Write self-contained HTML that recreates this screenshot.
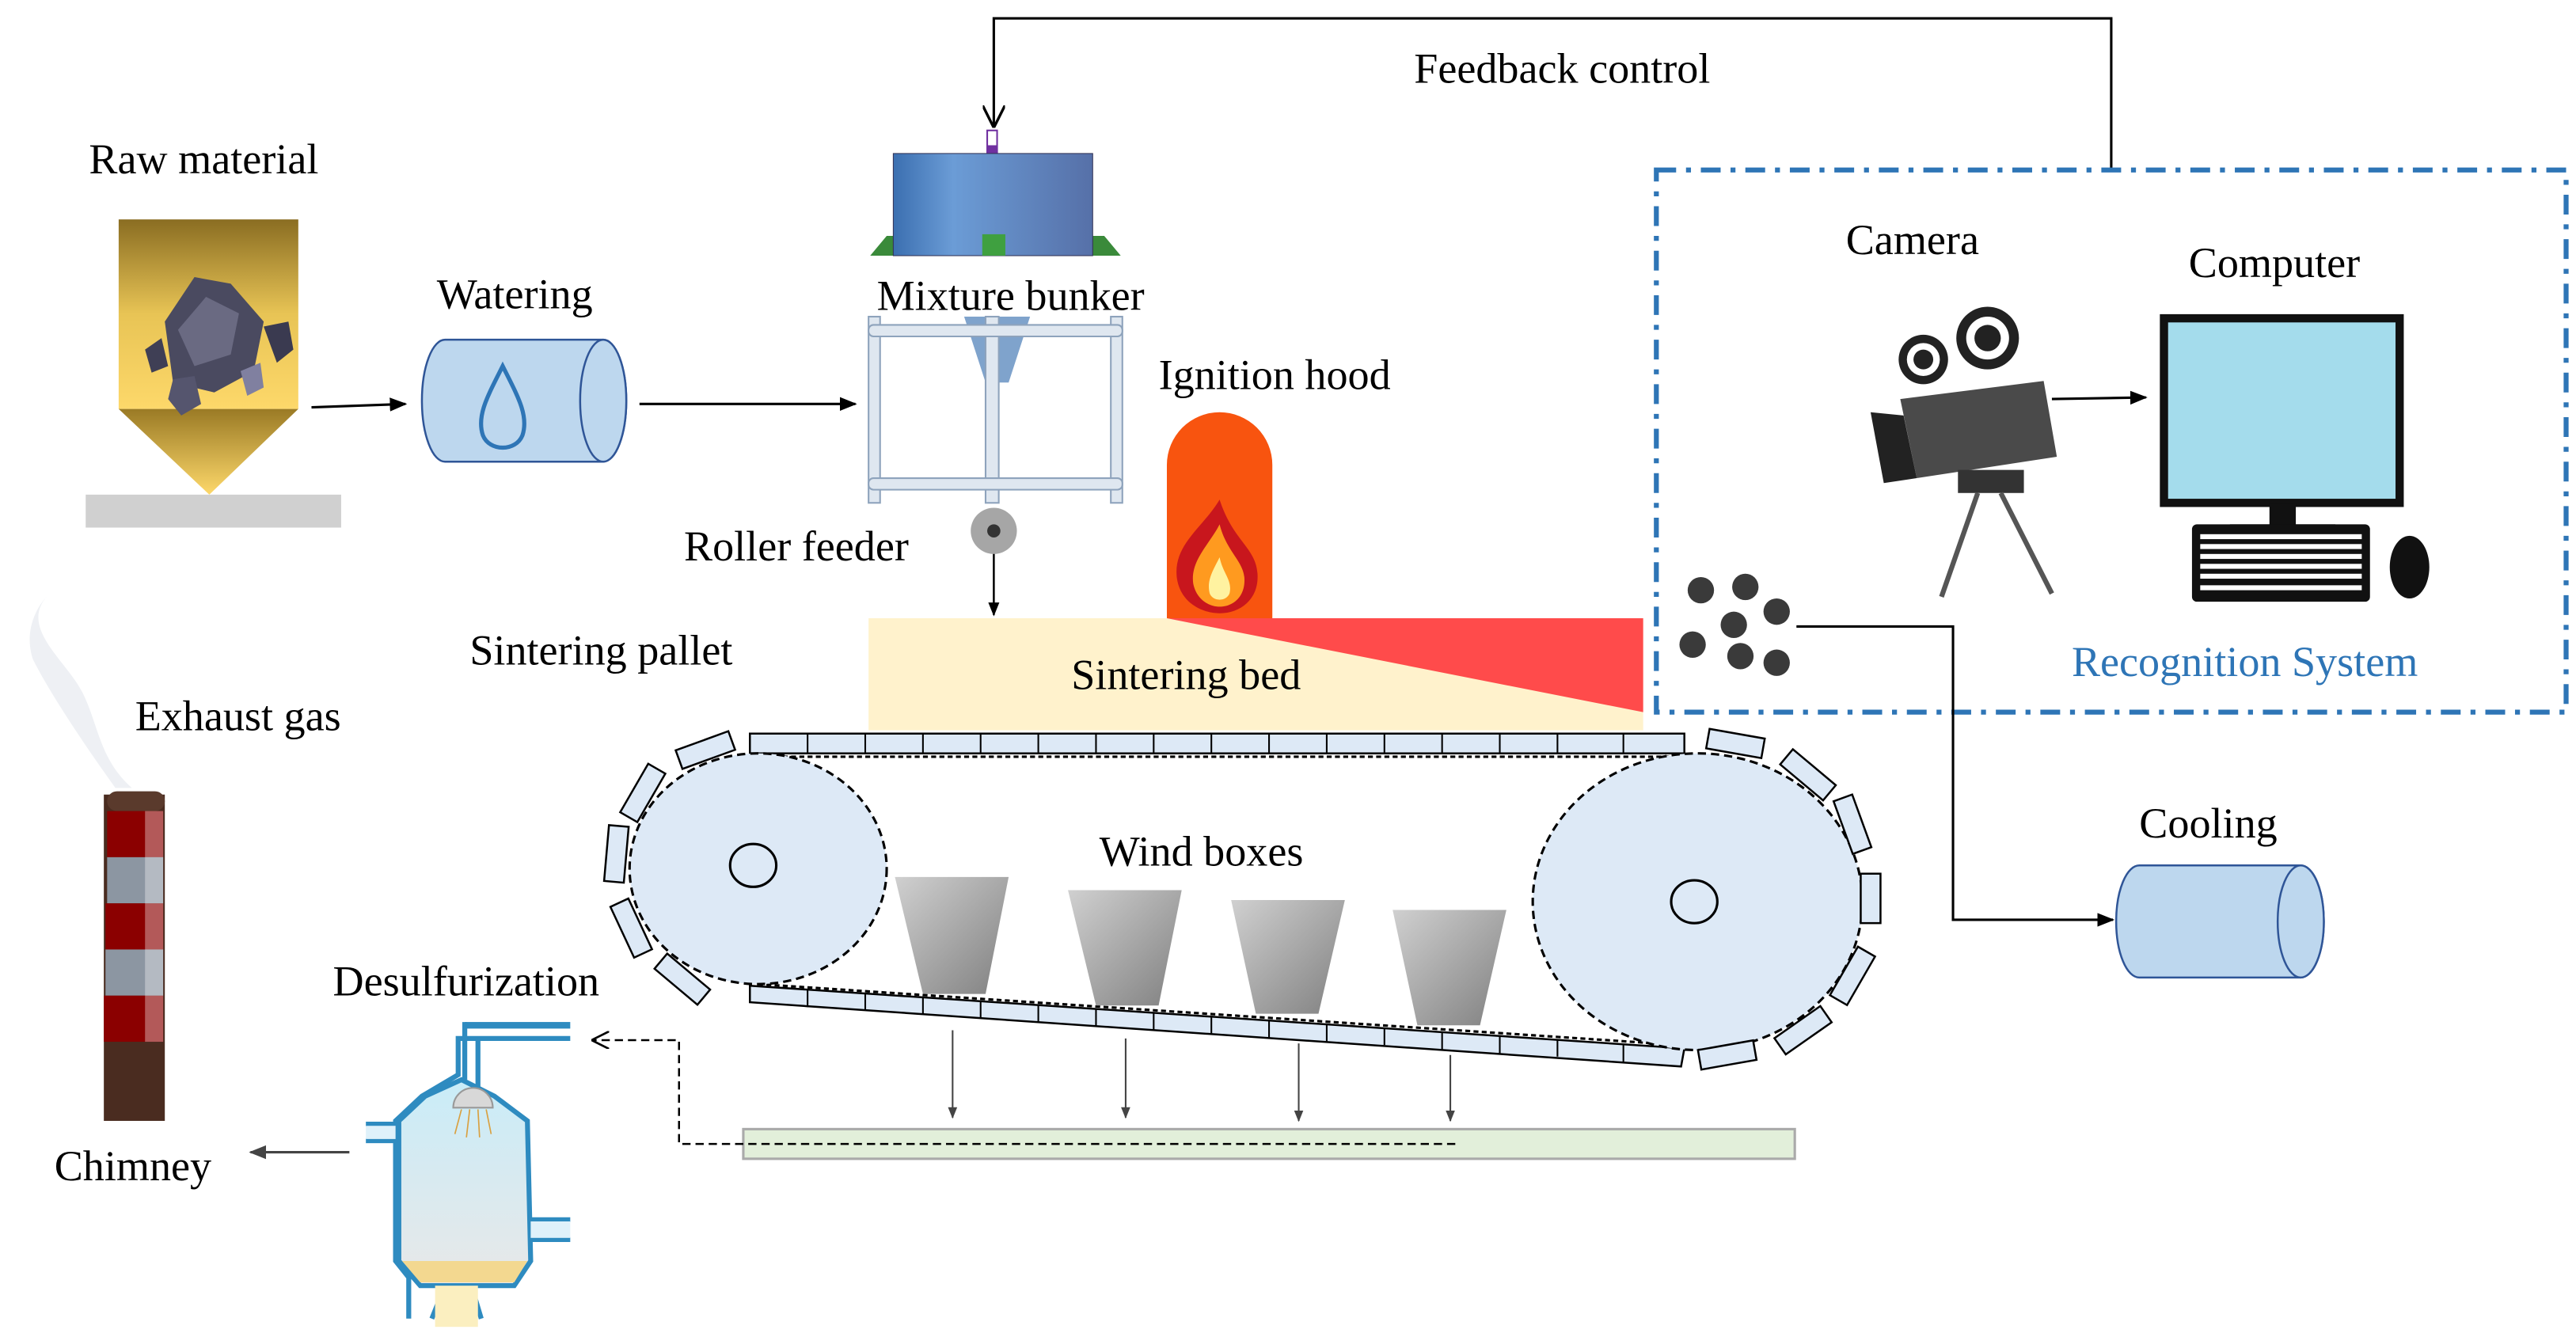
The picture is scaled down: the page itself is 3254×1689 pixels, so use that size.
<!DOCTYPE html>
<html><head><meta charset="utf-8"><style>html,body{margin:0;padding:0;background:#fff}svg{display:block}text{font-family:"Liberation Serif",serif;font-size:26px;fill:#000}</style></head><body>
<svg width="3254" height="1689" viewBox="0 0 1563 811" xmlns="http://www.w3.org/2000/svg">
<defs>
<linearGradient id="gold" x1="0" y1="0" x2="0" y2="1"><stop offset="0" stop-color="#8a6d22"/><stop offset="0.5" stop-color="#e8c455"/><stop offset="1" stop-color="#fdd86a"/></linearGradient>
<linearGradient id="gold2" x1="0" y1="0" x2="0" y2="1"><stop offset="0" stop-color="#9a7a25"/><stop offset="1" stop-color="#fdd86a"/></linearGradient>
<linearGradient id="blue" x1="0" y1="0" x2="1" y2="0"><stop offset="0" stop-color="#3b6fb0"/><stop offset="0.3" stop-color="#6b9cd6"/><stop offset="1" stop-color="#5670a8"/></linearGradient>
<linearGradient id="grey" x1="0" y1="0" x2="1" y2="1"><stop offset="0" stop-color="#d0d0d0"/><stop offset="1" stop-color="#808080"/></linearGradient>
<linearGradient id="vess" x1="0" y1="0" x2="0" y2="1"><stop offset="0" stop-color="#c9ecf8"/><stop offset="1" stop-color="#e8e8e8"/></linearGradient>
<marker id="ar" viewBox="0 0 10 10" refX="9" refY="5" markerWidth="7" markerHeight="7" orient="auto"><path d="M0,1 L10,5 L0,9 z" fill="#000"/></marker>
<marker id="arg" viewBox="0 0 10 10" refX="9" refY="5" markerWidth="7" markerHeight="7" orient="auto"><path d="M0,1 L10,5 L0,9 z" fill="#444"/></marker>
<marker id="aro" viewBox="0 0 10 10" refX="9" refY="5" markerWidth="9" markerHeight="9" orient="auto"><path d="M0,0 L10,5 L0,10" fill="none" stroke="#000" stroke-width="1.2"/></marker>
</defs>

<!-- feedback -->
<polyline points="1281,103 1281,11 603,11 603,76" fill="none" stroke="#000" stroke-width="1.5" marker-end="url(#aro)"/>
<text x="858" y="50">Feedback control</text>

<!-- raw material -->
<text x="54" y="105">Raw material</text>
<rect x="72" y="133" width="109" height="115" fill="url(#gold)"/>
<polygon points="72,248 181,248 127,300" fill="url(#gold2)"/>
<rect x="52" y="300" width="155" height="20" fill="#d0d0d0"/>
<polygon points="100,195 118,168 140,172 160,195 154,225 130,238 105,232" fill="#4a4a60"/>
<polygon points="108,200 125,180 145,190 140,215 118,222" fill="#6a6a82"/>
<polygon points="88,212 98,205 102,222 92,226" fill="#3f3f55"/>
<polygon points="160,198 175,195 178,212 168,220" fill="#3a3a50"/>
<polygon points="105,230 118,228 122,245 110,252 102,242" fill="#55556e"/>
<polygon points="146,225 158,220 160,235 150,240" fill="#8080a0"/>
<line x1="189" y1="247" x2="246" y2="245" stroke="#000" stroke-width="1.5" marker-end="url(#ar)"/>

<!-- watering -->
<text x="265" y="187">Watering</text>
<path d="M270,206 L366,206 A14,37 0 0 1 366,280 L270,280 A14,37 0 0 1 270,206 z" fill="#bdd7ee" stroke="#2f5597" stroke-width="1.2"/>
<ellipse cx="366" cy="243" rx="14" ry="37" fill="#bdd7ee" stroke="#2f5597" stroke-width="1.2"/>
<path d="M305,222 C296,240 289,252 293,264 C297,274 313,274 317,264 C321,252 314,240 305,222 z" fill="none" stroke="#2e75b6" stroke-width="2.5"/>
<line x1="388" y1="245" x2="519" y2="245" stroke="#000" stroke-width="1.5" marker-end="url(#ar)"/>

<!-- mixture bunker -->
<rect x="599" y="79" width="6" height="14" fill="#fff" stroke="#7030a0"/>
<rect x="599" y="88" width="6" height="5" fill="#7030a0"/>
<polygon points="538,143 528,155 680,155 670,143" fill="#3a8a3a"/>
<rect x="542" y="93" width="121" height="62" fill="url(#blue)" stroke="#335" stroke-width="0.5"/>
<rect x="596" y="142" width="14" height="13" fill="#3fa040"/>
<text x="532" y="188">Mixture bunker</text>
<polygon points="585,192 625,192 612,232 598,232" fill="#7fa3cc"/>
<g fill="#dfe7f0" stroke="#8ea3bc" stroke-width="1">
<rect x="527" y="192" width="7" height="113"/><rect x="598" y="192" width="8" height="113"/><rect x="674" y="192" width="7" height="113"/>
<rect x="527" y="197" width="154" height="7" rx="3"/><rect x="527" y="290" width="154" height="7" rx="3"/>
</g>
<text x="415" y="340">Roller feeder</text>
<ellipse cx="603" cy="322" rx="14" ry="14" fill="#a6a6a6"/>
<circle cx="603" cy="322" r="4" fill="#333"/>
<line x1="603" y1="336" x2="603" y2="373" stroke="#000" stroke-width="1.2" marker-end="url(#ar)"/>

<!-- ignition hood & bed -->
<text x="703" y="236">Ignition hood</text>
<rect x="527" y="375" width="470" height="68" fill="#fff2cc"/>
<polygon points="708,375 997,375 997,432" fill="#ff4b4b"/>
<path d="M708,375 L708,282 A32,32 0 0 1 772,282 L772,375 z" fill="#f8540f"/>
<path d="M740,303 C730,320 712,330 714,350 C716,366 730,372 740,372 C752,372 764,364 763,348 C762,332 748,328 740,303 z" fill="#c8161d"/>
<path d="M740,318 C734,330 722,340 724,354 C726,364 734,368 740,368 C748,368 756,362 755,350 C754,340 744,334 740,318 z" fill="#ff9a1f"/>
<path d="M740,338 C736,346 732,352 734,360 C736,365 744,365 746,360 C748,352 742,348 740,338 z" fill="#fff2a0"/>
<text x="650" y="418">Sintering bed</text>
<text x="285" y="403">Sintering pallet</text>

<!-- pallet top -->
<g fill="#dde9f6" stroke="#000" stroke-width="1.2">
<rect x="455" y="445" width="567" height="12"/>
</g>
<g stroke="#000" stroke-width="1">
<line x1="490" y1="445" x2="490" y2="457"/><line x1="525" y1="445" x2="525" y2="457"/><line x1="560" y1="445" x2="560" y2="457"/><line x1="595" y1="445" x2="595" y2="457"/><line x1="630" y1="445" x2="630" y2="457"/><line x1="665" y1="445" x2="665" y2="457"/><line x1="700" y1="445" x2="700" y2="457"/><line x1="735" y1="445" x2="735" y2="457"/><line x1="770" y1="445" x2="770" y2="457"/><line x1="805" y1="445" x2="805" y2="457"/><line x1="840" y1="445" x2="840" y2="457"/><line x1="875" y1="445" x2="875" y2="457"/><line x1="910" y1="445" x2="910" y2="457"/><line x1="945" y1="445" x2="945" y2="457"/><line x1="985" y1="445" x2="985" y2="457"/>
</g>
<!-- bottom pallet slanted -->
<polygon points="455,598 1022,636 1020,647 455,608" fill="#dde9f6" stroke="#000" stroke-width="1.2"/>
<g stroke="#000" stroke-width="1">
<line x1="490" y1="600" x2="490" y2="611"/><line x1="525" y1="603" x2="525" y2="613"/><line x1="560" y1="605" x2="560" y2="615"/><line x1="595" y1="607" x2="595" y2="618"/><line x1="630" y1="610" x2="630" y2="620"/><line x1="665" y1="612" x2="665" y2="623"/><line x1="700" y1="614" x2="700" y2="625"/><line x1="735" y1="617" x2="735" y2="627"/><line x1="770" y1="619" x2="770" y2="630"/><line x1="805" y1="621" x2="805" y2="632"/><line x1="840" y1="624" x2="840" y2="634"/><line x1="875" y1="626" x2="875" y2="637"/><line x1="910" y1="628" x2="910" y2="639"/><line x1="945" y1="631" x2="945" y2="641"/><line x1="985" y1="634" x2="985" y2="644"/>
</g>
<line x1="455" y1="459" x2="1022" y2="459" stroke="#000" stroke-width="1.5" stroke-dasharray="3,2"/>
<line x1="460" y1="597" x2="1020" y2="634" stroke="#000" stroke-width="1.5" stroke-dasharray="3,2"/>

<!-- wheels -->
<ellipse cx="460" cy="527" rx="78" ry="70" fill="#dde9f6" stroke="#000" stroke-width="1.5" stroke-dasharray="5,3"/>
<ellipse cx="457" cy="525" rx="14" ry="13" fill="none" stroke="#000" stroke-width="1.5"/>
<ellipse cx="1030" cy="547" rx="100" ry="90" fill="#dde9f6" stroke="#000" stroke-width="1.5" stroke-dasharray="5,3"/>
<ellipse cx="1028" cy="547" rx="14" ry="13" fill="none" stroke="#000" stroke-width="1.5"/>
<g fill="#dde9f6" stroke="#000" stroke-width="1.2">
<rect x="-17" y="-6" width="34" height="12" transform="translate(428,455) rotate(-20)"/>
<rect x="-17" y="-6" width="34" height="12" transform="translate(390,481) rotate(-60)"/>
<rect x="-17" y="-6" width="34" height="12" transform="translate(374,518) rotate(-85)"/>
<rect x="-17" y="-6" width="34" height="12" transform="translate(383,563) rotate(65)"/>
<rect x="-17" y="-6" width="34" height="12" transform="translate(414,594) rotate(40)"/>
<rect x="-17" y="-6" width="34" height="12" transform="translate(1053,451) rotate(10)"/>
<rect x="-17" y="-6" width="34" height="12" transform="translate(1097,470) rotate(40)"/>
<rect x="-17" y="-6" width="34" height="12" transform="translate(1124,500) rotate(70)"/>
<rect x="-15" y="-6" width="30" height="12" transform="translate(1135,545) rotate(90)"/>
<rect x="-17" y="-6" width="34" height="12" transform="translate(1124,592) rotate(-60)"/>
<rect x="-17" y="-6" width="34" height="12" transform="translate(1094,625) rotate(-35)"/>
<rect x="-17" y="-6" width="34" height="12" transform="translate(1048,640) rotate(-10)"/>
</g>

<!-- wind boxes -->
<text x="667" y="525">Wind boxes</text>
<polygon points="543,532 612,532 598,603 560,603" fill="url(#grey)"/>
<polygon points="648,540 717,540 703,610 665,610" fill="url(#grey)"/>
<polygon points="747,546 816,546 800,615 762,615" fill="url(#grey)"/>
<polygon points="845,552 914,552 898,622 860,622" fill="url(#grey)"/>
<g stroke="#444" stroke-width="1" marker-end="url(#arg)">
<line x1="578" y1="625" x2="578" y2="678"/><line x1="683" y1="630" x2="683" y2="678"/><line x1="788" y1="633" x2="788" y2="680"/><line x1="880" y1="640" x2="880" y2="680"/>
</g>
<rect x="451" y="685" width="638" height="18" fill="#e2efda" stroke="#aaa" stroke-width="1.5"/>
<polyline points="883,694 412,694 412,631 360,631" fill="none" stroke="#000" stroke-width="1.2" stroke-dasharray="5,3" marker-end="url(#aro)"/>

<!-- desulfurization -->
<text x="202" y="604">Desulfurization</text>
<path d="M248,800 L248,775 L240,765 L240,680 L256,665 L278,652 L278,630 L346,630" fill="none" stroke="#2e8bc0" stroke-width="3"/>
<path d="M294,800 L294,775 L302,765 L302,680 L290,665 L280,652 L280,630" fill="none"/>
<path d="M242,765 L242,680 L258,665 L280,655 L300,665 L320,680 L322,765 L312,780 L255,780 z" fill="url(#vess)" stroke="#2e8bc0" stroke-width="3"/>
<path d="M244,765 L320,765 L312,778 L255,778 z" fill="#f3d890"/>
<rect x="282" y="620" width="64" height="4" fill="#2e8bc0"/>
<path d="M282,620 L282,655 M290,630 L290,660" stroke="#2e8bc0" stroke-width="3" fill="none"/>
<path d="M275,672 A12,12 0 0 1 299,672 z" fill="#d8d8d8" stroke="#999"/>
<g stroke="#d9a040" stroke-width="0.8"><line x1="280" y1="673" x2="276" y2="688"/><line x1="285" y1="673" x2="283" y2="690"/><line x1="290" y1="673" x2="291" y2="690"/><line x1="295" y1="673" x2="298" y2="688"/></g>
<path d="M222,682 L240,682 M222,692 L240,692 M322,740 L346,740 M322,752 L346,752" stroke="#2e8bc0" stroke-width="3"/>
<rect x="222" y="683" width="18" height="8" fill="#dff1fa"/><rect x="322" y="741" width="24" height="10" fill="#dff1fa"/>
<path d="M270,780 L262,800 M286,780 L292,800" stroke="#2e8bc0" stroke-width="3" fill="none"/>
<rect x="264" y="780" width="26" height="25" fill="#fbefc0"/>

<!-- chimney -->
<text x="82" y="443">Exhaust gas</text>
<path d="M30,360 C10,380 40,400 50,420 C60,440 60,460 80,478 L70,478 C50,450 30,420 20,400 C15,385 20,370 30,360 z" fill="#eef0f4"/>
<rect x="63" y="482" width="37" height="198" fill="#4a2c20"/>
<rect x="65" y="480" width="35" height="12" rx="6" fill="#5a3a2c"/>
<rect x="65" y="492" width="34" height="28" fill="#8b0000"/><rect x="65" y="520" width="34" height="28" fill="#8c96a2"/>
<rect x="64" y="548" width="35" height="28" fill="#8b0000"/><rect x="64" y="576" width="35" height="28" fill="#8c96a2"/>
<rect x="63" y="604" width="36" height="28" fill="#8b0000"/>
<rect x="88" y="492" width="11" height="140" fill="#ffffff" opacity="0.35"/>
<text x="33" y="716">Chimney</text>
<line x1="212" y1="699" x2="152" y2="699" stroke="#444" stroke-width="1.5" marker-end="url(#arg)"/>

<!-- recognition system -->
<rect x="1005" y="103" width="552" height="329" fill="none" stroke="#2e75b6" stroke-width="3" stroke-dasharray="12,6,3,6"/>
<text x="1120" y="154">Camera</text>
<text x="1328" y="168">Computer</text>
<circle cx="1167" cy="218" r="15" fill="#222"/><circle cx="1167" cy="218" r="10" fill="#fff"/><circle cx="1167" cy="218" r="6" fill="#222"/>
<circle cx="1206" cy="205" r="19" fill="#222"/><circle cx="1206" cy="205" r="13" fill="#fff"/><circle cx="1206" cy="205" r="8" fill="#222"/>
<polygon points="1153,242 1240,231 1248,277 1163,290" fill="#4a4a4a"/>
<polygon points="1135,250 1155,252 1163,290 1143,293" fill="#222"/>
<rect x="1188" y="285" width="40" height="14" fill="#333"/>
<path d="M1200,299 L1178,362 M1214,299 L1245,360" stroke="#555" stroke-width="3"/>
<line x1="1245" y1="242" x2="1302" y2="241" stroke="#000" stroke-width="1.5" marker-end="url(#ar)"/>
<rect x="1313" y="193" width="143" height="112" fill="#a4dcec" stroke="#111" stroke-width="5"/>
<rect x="1377" y="305" width="16" height="15" fill="#111"/><rect x="1353" y="318" width="64" height="7" fill="#111"/>
<rect x="1330" y="318" width="108" height="47" rx="3" fill="#111"/>
<g fill="#fff"><rect x="1335" y="324" width="98" height="3"/><rect x="1335" y="330" width="98" height="3"/><rect x="1335" y="336" width="98" height="3"/><rect x="1335" y="342" width="98" height="3"/><rect x="1335" y="348" width="98" height="3"/><rect x="1335" y="355" width="98" height="3"/></g>
<ellipse cx="1462" cy="344" rx="12" ry="19" fill="#111"/>
<g fill="#3a3a3a"><circle cx="1032" cy="358" r="8"/><circle cx="1059" cy="356" r="8"/><circle cx="1078" cy="371" r="8"/><circle cx="1052" cy="379" r="8"/><circle cx="1027" cy="391" r="8"/><circle cx="1056" cy="398" r="8"/><circle cx="1078" cy="402" r="8"/></g>
<polyline points="1090,380 1185,380 1185,558 1282,558" fill="none" stroke="#000" stroke-width="1.5" marker-end="url(#ar)"/>
<text x="1257" y="410" style="fill:#2e75b6">Recognition System</text>

<!-- cooling -->
<text x="1298" y="508">Cooling</text>
<path d="M1298,525 L1396,525 A14,34 0 0 1 1396,593 L1298,593 A14,34 0 0 1 1298,525 z" fill="#bdd7ee" stroke="#2f5597" stroke-width="1.2"/>
<ellipse cx="1396" cy="559" rx="14" ry="34" fill="#bdd7ee" stroke="#2f5597" stroke-width="1.2"/>
</svg>
</body></html>
